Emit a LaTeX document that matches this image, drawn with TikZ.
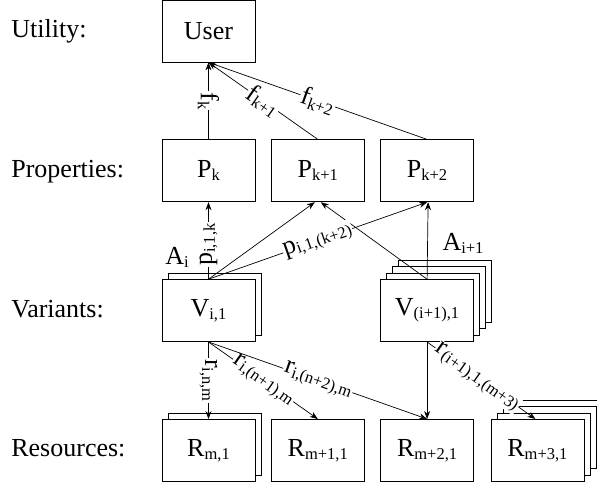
\documentclass[tikz,border=0pt]{standalone}
\usepackage{fontspec}
\setmainfont{Liberation Serif}
\usetikzlibrary{shadows,positioning,arrows.meta}
\newcommand{\lo}[1]{\raisebox{-0.25ex}{\fontsize{16.5}{18}\selectfont #1}}

\tikzset{
  box/.style={draw, fill=white, line width=0.8pt, minimum width=93pt, minimum height=62pt, inner sep=0pt},
  lbl/.style={fill=white, inner sep=1pt},
  stackone/.style={copy shadow={shadow xshift=6pt, shadow yshift=6pt, draw, fill=white}},
  stackthree/.style={copy shadow={shadow xshift=18pt, shadow yshift=19pt, draw, fill=white},
                     copy shadow={shadow xshift=12pt, shadow yshift=13pt, draw, fill=white},
                     copy shadow={shadow xshift=6pt, shadow yshift=6pt, draw, fill=white}},
}

\begin{document}
\begin{tikzpicture}[>={Stealth[length=8pt,width=6pt]}, line width=0.7pt, x=1pt, y=-1pt, font=\fontsize{26}{30}\selectfont]
\useasboundingbox (0,0) rectangle (597,486);

% Row titles
\node[anchor=base west, inner sep=0pt] (tutil) at (11,38) {Utility:};
\node[anchor=base west, inner sep=0pt] (tprop) at (11,178) {Properties:};
\node[anchor=base west, inner sep=0pt] (tvar) at (11,317) {Variants:};
\node[anchor=base west, inner sep=0pt] (tres) at (11,456) {Resources:};

% Boxes
\node[box] (user) at (208.5,31) {User};
\node[box, below=77pt of user] (pk) {P\lo{k}};
\node[box, right=15.5pt of pk] (pk1) {P\lo{k+1}};
\node[box, right=15.5pt of pk1] (pk2) {P\lo{k+2}};

\node[box, stackone, below=77pt of pk] (vi) {V\lo{i,1}};
\node[box, stackthree, below=77pt of pk2] (vii) {V\lo{(i+1),1}};

\node[box, stackone, below=77pt of vi] (rm) {R\lo{m,1}};
\node[box, right=15.5pt of rm] (rm1) {R\lo{m+1,1}};
\node[box, right=15.5pt of rm1] (rm2) {R\lo{m+2,1}};
\node[box, stackthree, right=16.5pt of rm2] (rm3) {R\lo{m+3,1}};

\node (ai) at (177,257) {A\lo{i}};
\node (aii) at (463,243) {A\lo{i+1}};

% Properties to user
\draw[->] (pk) -- (user) node[midway, lbl, rotate=-90] {f\lo{k}};
\draw[->] (pk1.north) -- (user.south) node[midway, lbl, sloped] {f\lo{k+1}};
\draw[->] (pk2.north) -- (user.south) node[midway, lbl, sloped] {f\lo{k+2}};

% Variants to properties
\draw[->] (vii.north) -- ([xshift=3pt]pk1.south);
\draw[->] (vii.north) -- ([xshift=1pt]pk2.south);
\draw[->] (vi.north) -- (pk.south) node[pos=0.45, lbl, sloped] {p\lo{i,1,k}};
\draw[->] (vi.north) -- ([xshift=-3pt]pk1.south);
\draw[->] (vi.north) -- (pk2.south) node[midway, lbl, sloped] {p\lo{i,1,(k+2)}};

% Variants to resources
\draw[->] (vi.south) -- (rm.north) node[midway, lbl, sloped] {r\lo{i,n,m}};
\draw[->] (vi.south) -- (rm1.north) node[midway, lbl, sloped] {r\lo{i,(n+1),m}};
\draw[->] (vi.south) -- (rm2.north) node[midway, lbl, sloped] {r\lo{i,(n+2),m}};
\draw[->] (vii.south) -- (rm2.north);
\draw[->] (vii.south) -- ([xshift=-2pt]rm3.north) node[pos=0.46, lbl, sloped] {r\lo{(i+1),1,(m+3)}};
\end{tikzpicture}
\end{document}
